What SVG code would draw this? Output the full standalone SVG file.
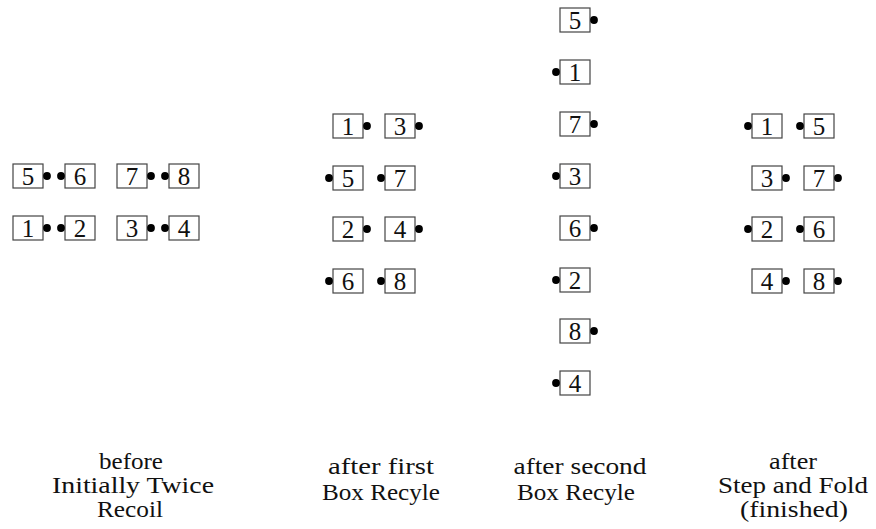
<svg xmlns="http://www.w3.org/2000/svg" width="876" height="529" viewBox="0 0 876 529">
<style>
.b{fill:#fff;stroke:#444;stroke-width:1.2}
.d{fill:#000}
.n{font-family:"Liberation Serif","DejaVu Serif",serif;font-size:25px;text-anchor:middle;fill:#111}
.l{font-family:"Liberation Serif","DejaVu Serif",serif;font-size:23px;text-anchor:middle;fill:#111}
</style>
<rect width="876" height="529" fill="#fff"/>
<g id="stage1">
<g id="s1-5"><rect class="b" x="13" y="164" width="30" height="24"/><text class="n" x="28" y="185">5</text><circle class="d" cx="47" cy="176" r="3.9"/></g>
<g id="s1-6"><rect class="b" x="65" y="164" width="30" height="24"/><text class="n" x="80" y="185">6</text><circle class="d" cx="61" cy="176" r="3.9"/></g>
<g id="s1-7"><rect class="b" x="117" y="164" width="30" height="24"/><text class="n" x="132" y="185">7</text><circle class="d" cx="151" cy="176" r="3.9"/></g>
<g id="s1-8"><rect class="b" x="169" y="164" width="30" height="24"/><text class="n" x="184" y="185">8</text><circle class="d" cx="165" cy="176" r="3.9"/></g>
<g id="s1-1"><rect class="b" x="13" y="216" width="30" height="24"/><text class="n" x="28" y="237">1</text><circle class="d" cx="47" cy="228" r="3.9"/></g>
<g id="s1-2"><rect class="b" x="65" y="216" width="30" height="24"/><text class="n" x="80" y="237">2</text><circle class="d" cx="61" cy="228" r="3.9"/></g>
<g id="s1-3"><rect class="b" x="117" y="216" width="30" height="24"/><text class="n" x="132" y="237">3</text><circle class="d" cx="151" cy="228" r="3.9"/></g>
<g id="s1-4"><rect class="b" x="169" y="216" width="30" height="24"/><text class="n" x="184" y="237">4</text><circle class="d" cx="165" cy="228" r="3.9"/></g>
</g>
<g id="stage2">
<g id="s2-1"><rect class="b" x="333" y="114" width="30" height="24"/><text class="n" x="348" y="135">1</text><circle class="d" cx="367" cy="126" r="3.9"/></g>
<g id="s2-3"><rect class="b" x="385" y="114" width="30" height="24"/><text class="n" x="400" y="135">3</text><circle class="d" cx="419" cy="126" r="3.9"/></g>
<g id="s2-5"><rect class="b" x="333" y="166" width="30" height="24"/><text class="n" x="348" y="187">5</text><circle class="d" cx="329" cy="178" r="3.9"/></g>
<g id="s2-7"><rect class="b" x="385" y="166" width="30" height="24"/><text class="n" x="400" y="187">7</text><circle class="d" cx="381" cy="178" r="3.9"/></g>
<g id="s2-2"><rect class="b" x="333" y="217" width="30" height="24"/><text class="n" x="348" y="238">2</text><circle class="d" cx="367" cy="229" r="3.9"/></g>
<g id="s2-4"><rect class="b" x="385" y="217" width="30" height="24"/><text class="n" x="400" y="238">4</text><circle class="d" cx="419" cy="229" r="3.9"/></g>
<g id="s2-6"><rect class="b" x="333" y="269" width="30" height="24"/><text class="n" x="348" y="290">6</text><circle class="d" cx="329" cy="281" r="3.9"/></g>
<g id="s2-8"><rect class="b" x="385" y="269" width="30" height="24"/><text class="n" x="400" y="290">8</text><circle class="d" cx="381" cy="281" r="3.9"/></g>
</g>
<g id="stage3">
<g id="s3-5"><rect class="b" x="560" y="8" width="30" height="24"/><text class="n" x="575" y="29">5</text><circle class="d" cx="594" cy="20" r="3.9"/></g>
<g id="s3-1"><rect class="b" x="560" y="60" width="30" height="24"/><text class="n" x="575" y="81">1</text><circle class="d" cx="556" cy="72" r="3.9"/></g>
<g id="s3-7"><rect class="b" x="560" y="112" width="30" height="24"/><text class="n" x="575" y="133">7</text><circle class="d" cx="594" cy="124" r="3.9"/></g>
<g id="s3-3"><rect class="b" x="560" y="164" width="30" height="24"/><text class="n" x="575" y="185">3</text><circle class="d" cx="556" cy="176" r="3.9"/></g>
<g id="s3-6"><rect class="b" x="560" y="216" width="30" height="24"/><text class="n" x="575" y="237">6</text><circle class="d" cx="594" cy="228" r="3.9"/></g>
<g id="s3-2"><rect class="b" x="560" y="268" width="30" height="24"/><text class="n" x="575" y="289">2</text><circle class="d" cx="556" cy="280" r="3.9"/></g>
<g id="s3-8"><rect class="b" x="560" y="319" width="30" height="24"/><text class="n" x="575" y="340">8</text><circle class="d" cx="594" cy="331" r="3.9"/></g>
<g id="s3-4"><rect class="b" x="560" y="371" width="30" height="24"/><text class="n" x="575" y="392">4</text><circle class="d" cx="556" cy="383" r="3.9"/></g>
</g>
<g id="stage4">
<g id="s4-1"><rect class="b" x="752" y="114" width="30" height="24"/><text class="n" x="767" y="135">1</text><circle class="d" cx="748" cy="126" r="3.9"/></g>
<g id="s4-5"><rect class="b" x="804" y="114" width="30" height="24"/><text class="n" x="819" y="135">5</text><circle class="d" cx="800" cy="126" r="3.9"/></g>
<g id="s4-3"><rect class="b" x="752" y="166" width="30" height="24"/><text class="n" x="767" y="187">3</text><circle class="d" cx="786" cy="178" r="3.9"/></g>
<g id="s4-7"><rect class="b" x="804" y="166" width="30" height="24"/><text class="n" x="819" y="187">7</text><circle class="d" cx="838" cy="178" r="3.9"/></g>
<g id="s4-2"><rect class="b" x="752" y="217" width="30" height="24"/><text class="n" x="767" y="238">2</text><circle class="d" cx="748" cy="229" r="3.9"/></g>
<g id="s4-6"><rect class="b" x="804" y="217" width="30" height="24"/><text class="n" x="819" y="238">6</text><circle class="d" cx="800" cy="229" r="3.9"/></g>
<g id="s4-4"><rect class="b" x="752" y="269" width="30" height="24"/><text class="n" x="767" y="290">4</text><circle class="d" cx="786" cy="281" r="3.9"/></g>
<g id="s4-8"><rect class="b" x="804" y="269" width="30" height="24"/><text class="n" x="819" y="290">8</text><circle class="d" cx="838" cy="281" r="3.9"/></g>
</g>
<g id="connectors"></g>
<g id="labels">
<text class="l" x="131" y="469" textLength="64" lengthAdjust="spacingAndGlyphs">before</text>
<text class="l" x="133" y="493" textLength="162" lengthAdjust="spacingAndGlyphs">Initially Twice</text>
<text class="l" x="130" y="517" textLength="66" lengthAdjust="spacingAndGlyphs">Recoil</text>
<text class="l" x="381" y="474" textLength="106" lengthAdjust="spacingAndGlyphs">after first</text>
<text class="l" x="381" y="500" textLength="118" lengthAdjust="spacingAndGlyphs">Box Recyle</text>
<text class="l" x="580" y="474" textLength="133" lengthAdjust="spacingAndGlyphs">after second</text>
<text class="l" x="576" y="500" textLength="118" lengthAdjust="spacingAndGlyphs">Box Recyle</text>
<text class="l" x="793" y="469" textLength="48" lengthAdjust="spacingAndGlyphs">after</text>
<text class="l" x="793" y="493" textLength="150" lengthAdjust="spacingAndGlyphs">Step and Fold</text>
<text class="l" x="794" y="517" textLength="108" lengthAdjust="spacingAndGlyphs">(finished)</text>
</g>
</svg>
